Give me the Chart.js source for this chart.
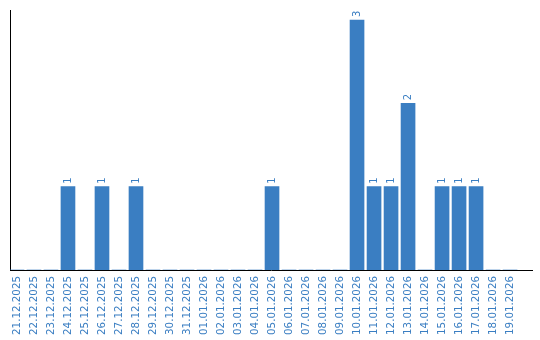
<!DOCTYPE html>
<html>
<head>
<meta charset="utf-8">
<script src="https://cdn.jsdelivr.net/npm/chart.js@4"></script>
<style>
html,body{margin:0;padding:0;background:#fff;}
#wrap{width:540px;height:340px;}
</style>
</head>
<body>
<div id="wrap"><canvas id="c" width="540" height="340"></canvas></div>
<script>
const categories = ["21.12.2025","22.12.2025","23.12.2025","24.12.2025","25.12.2025","26.12.2025","27.12.2025","28.12.2025","29.12.2025","30.12.2025","31.12.2025","01.01.2026","02.01.2026","03.01.2026","04.01.2026","05.01.2026","06.01.2026","07.01.2026","08.01.2026","09.01.2026","10.01.2026","11.01.2026","12.01.2026","13.01.2026","14.01.2026","15.01.2026","16.01.2026","17.01.2026","18.01.2026","19.01.2026"];
const counts = [0,0,0,1,0,1,0,1,0,0,0,0,0,0,0,1,0,0,0,0,3,1,1,2,0,1,1,1,0,0];

const BLUE = '#3a7ec2';

const points = categories.map((c, i) => ({ x: i, y: counts[i] }));

const barLabels = {
  id: 'barLabels',
  afterDatasetsDraw(chart) {
    const ctx = chart.ctx;
    const meta = chart.getDatasetMeta(0);
    ctx.save();
    ctx.fillStyle = BLUE;
    ctx.font = '10px "DejaVu Sans"';
    ctx.textAlign = 'left';
    ctx.textBaseline = 'middle';
    meta.data.forEach((bar, i) => {
      const v = counts[i];
      if (!v) return;
      ctx.save();
      ctx.translate(bar.x, bar.y - 3);
      ctx.rotate(-Math.PI / 2);
      ctx.fillText(String(v), 0, 0);
      ctx.restore();
    });
    ctx.restore();
  }
};

new Chart(document.getElementById('c'), {
  type: 'bar',
  data: {
    datasets: [{
      data: points,
      backgroundColor: BLUE,
      borderWidth: 0,
      barThickness: 14
    }]
  },
  options: {
    responsive: false,
    animation: false,
    devicePixelRatio: 1,
    layout: { padding: { left: 10, right: 8, top: 10, bottom: 0 } },
    plugins: { legend: { display: false }, tooltip: { enabled: false } },
    scales: {
      x: {
        type: 'linear',
        offset: false,
        min: -0.41,
        max: 30.29,
        grid: { display: false, drawTicks: false },
        border: { display: true, color: '#000', width: 1 },
        ticks: {
          color: BLUE,
          font: { family: 'DejaVu Sans', size: 10.3 },
          maxRotation: 90, minRotation: 90,
          autoSkip: false,
          includeBounds: false,
          stepSize: 1,
          padding: 6,
          callback: (v) => (Number.isInteger(v) && categories[v] !== undefined) ? categories[v] : ''
        },
        afterFit: (s) => { s.height = 70; s.paddingLeft = 0; s.paddingRight = 0; }
      },
      y: {
        min: 0, max: 3.12,
        grid: { display: false, drawTicks: false },
        border: { display: true, color: '#000', width: 1 },
        ticks: { display: false },
        afterFit: (s) => { s.width = 0; s.paddingTop = 0; s.paddingBottom = 0; }
      }
    }
  },
  plugins: [barLabels]
});
</script>
</body>
</html>
